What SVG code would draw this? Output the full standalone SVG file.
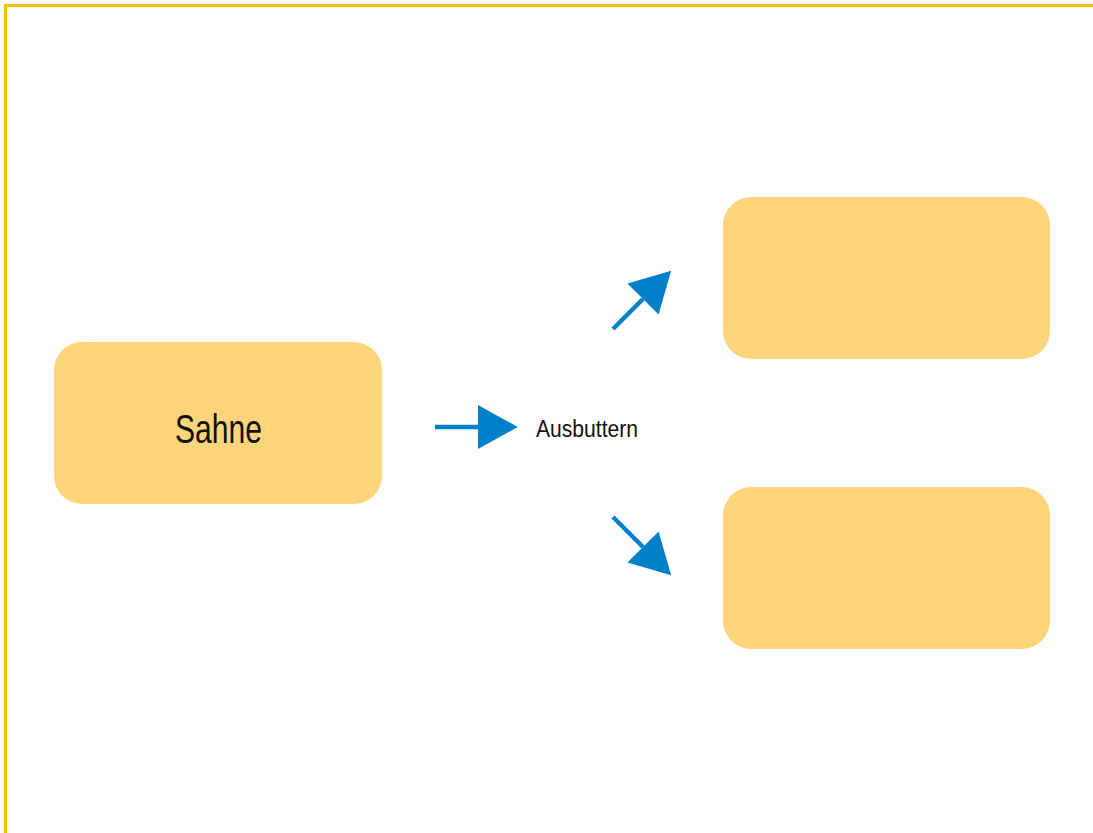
<svg xmlns="http://www.w3.org/2000/svg" width="1093" height="833" viewBox="0 0 1093 833">
<style>
.frame{fill:none;stroke:#FFC000;stroke-width:3}
.box{fill:#FFD57B}
.conn{stroke:#0080C8;stroke-width:4.5;fill:none}
.lbl{font-family:"Liberation Sans",Arial,sans-serif;fill:#111}
</style>
<defs>
<marker id="ah" markerUnits="userSpaceOnUse" markerWidth="40" markerHeight="44" refX="0" refY="21" orient="auto" viewBox="0 0 38 42">
<path d="M0,0 L38,21 L0,42 z" fill="#0080C8"/>
</marker>
</defs>
<rect width="1093" height="833" fill="#fff"/>
<rect class="frame" x="5.5" y="5.5" width="1200" height="1000"/>
<g id="sahne">
<rect class="box" x="54" y="342" width="328" height="162" rx="28"/>
<text class="lbl" x="175" y="443" font-size="40" textLength="87" lengthAdjust="spacingAndGlyphs">Sahne</text>
</g>
<g id="top">
<rect class="box" x="723" y="197" width="327" height="162" rx="28"/>
</g>
<g id="bottom">
<rect class="box" x="723" y="487" width="327" height="162" rx="28"/>
</g>
<g id="connectors">
<line class="conn" x1="435" y1="427" x2="478" y2="427" marker-end="url(#ah)"/>
<line class="conn" x1="613" y1="329" x2="643" y2="299" marker-end="url(#ah)"/>
<line class="conn" x1="613" y1="517" x2="643" y2="547" marker-end="url(#ah)"/>
</g>
<g id="label">
<text class="lbl" x="536" y="437" font-size="23" textLength="102" lengthAdjust="spacingAndGlyphs">Ausbuttern</text>
</g>
</svg>
